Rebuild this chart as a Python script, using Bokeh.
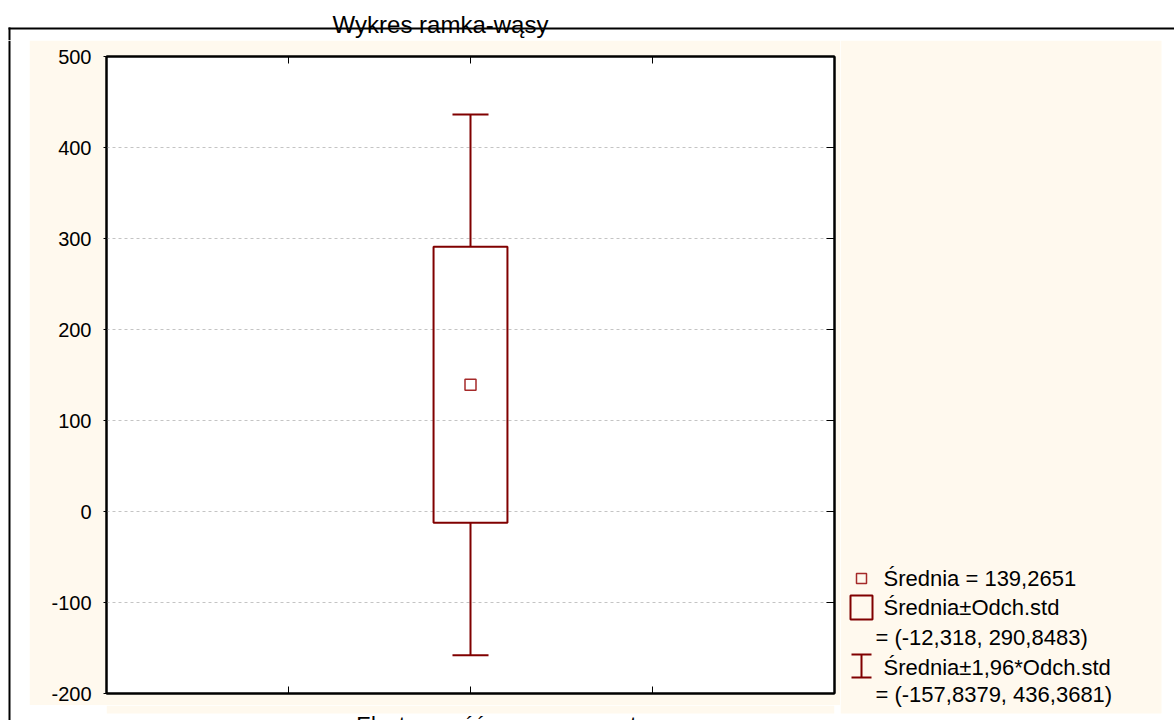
from bokeh.plotting import figure
from bokeh.models import LinearAxis, FixedTicker, Range1d, ColumnDataSource, Grid
from bokeh.layouts import row, column
from bokeh.core.properties import value
from bokeh.embed import file_html
from bokeh.resources import INLINE

# ---- data ----
x_pos = [2]
mean = [139.2651]
box_low = [-12.318]
box_high = [290.8483]
whisk_low = [-157.8379]
whisk_high = [436.3681]
y_ticks = [-200, -100, 0, 100, 200, 300, 400, 500]
x_ticks = [1, 2, 3]
title_text = "Wykres ramka-wąsy"
x_label = "Elastyczność cenowa wzrostu"


def fmt(v):
    s = f"{v:.4f}".rstrip("0").rstrip(".")
    return s.replace(".", ",")


MAROON = "#800000"
MEAN_C = "#a52a2a"
CREAM = "#fff9ee"
FONT = "Liberation Sans"


def blank(w, h, bg="white"):
    f = figure(width=w, height=h, output_backend="svg", toolbar_location=None,
               x_range=Range1d(0, w), y_range=Range1d(h, 0),
               x_axis_location=None, y_axis_location=None, min_border=0)
    f.outline_line_color = None
    f.background_fill_color = bg
    f.border_fill_color = bg
    for g in f.grid:
        g.visible = False
    return f


# ---------------- header (title strip) ----------------
head = blank(1174, 40)
head.text(x=[440], y=[24], text=[title_text], text_font=value(FONT), text_font_size="24px",
          text_align="center", text_baseline="middle", text_color="black")
head.quad(left=[8], right=[1174], top=[27], bottom=[29], fill_color="black", line_color=None)
head.quad(left=[8], right=[10], top=[27], bottom=[40], fill_color="black", line_color=None)

# ---------------- left pad (outer frame line) ----------------
leftpad = blank(29, 680)
leftpad.quad(left=[8], right=[10], top=[0], bottom=[680], fill_color="black", line_color=None)

# ---------------- main plot ----------------
p = figure(width=811, height=665, output_backend="svg", toolbar_location=None,
           x_range=Range1d(0, 4), y_range=Range1d(-200, 500),
           x_axis_location=None, y_axis_location=None,
           min_border_left=77, min_border_right=6, min_border_top=16, min_border_bottom=12)
p.border_fill_color = CREAM
p.background_fill_color = "white"
p.outline_line_color = "black"
p.outline_line_width = 2
for g in p.grid:
    g.visible = False

left = LinearAxis(ticker=FixedTicker(ticks=y_ticks))
left.major_label_overrides = {t: str(t) for t in y_ticks}
left.major_label_text_font = FONT
left.major_label_text_font_size = "20px"
left.major_label_text_color = "black"
left.major_tick_out = 3
left.major_tick_in = 0
left.minor_tick_out = 0
left.minor_tick_in = 0
left.major_label_standoff = 12
left.axis_line_width = 2
p.add_layout(left, "left")

right = LinearAxis(ticker=FixedTicker(ticks=y_ticks))
right.major_label_overrides = {t: "" for t in y_ticks}
right.major_label_text_font_size = "1px"
right.major_label_standoff = 0
right.major_tick_in = 8
right.major_tick_out = 0
right.minor_tick_out = 0
right.minor_tick_in = 0
right.axis_line_width = 2
p.add_layout(right, "right")

for loc in ("above", "below"):
    ax = LinearAxis(ticker=FixedTicker(ticks=x_ticks))
    ax.major_label_overrides = {t: "" for t in x_ticks}
    ax.major_label_text_font_size = "1px"
    ax.major_label_standoff = 0
    ax.major_tick_in = 7
    ax.major_tick_out = 0
    ax.minor_tick_out = 0
    ax.minor_tick_in = 0
    ax.axis_line_width = 2
    p.add_layout(ax, loc)

grid = Grid(dimension=1, ticker=FixedTicker(ticks=y_ticks), grid_line_color="#c4c4c4",
            grid_line_dash="3 3", grid_line_width=1)
p.add_layout(grid, "center")

src = ColumnDataSource(dict(
    x=x_pos, mean=mean, blo=box_low, bhi=box_high, wlo=whisk_low, whi=whisk_high,
    bl=[x - 0.203 for x in x_pos], br=[x + 0.203 for x in x_pos],
    cl=[x - 0.099 for x in x_pos], cr=[x + 0.099 for x in x_pos],
))
p.segment(x0="x", y0="bhi", x1="x", y1="whi", source=src, line_color=MAROON, line_width=2)
p.segment(x0="x", y0="wlo", x1="x", y1="blo", source=src, line_color=MAROON, line_width=2)
p.segment(x0="cl", y0="whi", x1="cr", y1="whi", source=src, line_color=MAROON, line_width=2)
p.segment(x0="cl", y0="wlo", x1="cr", y1="wlo", source=src, line_color=MAROON, line_width=2)
p.quad(left="bl", right="br", bottom="blo", top="bhi", source=src,
       fill_color=None, line_color=MAROON, line_width=2)
p.scatter(x="x", y="mean", source=src, marker="square", size=11,
          fill_color=None, line_color=MEAN_C, line_width=1.5)

# ---------------- x label strip (cut off at the bottom edge, as in the original) ----------------
xl = blank(811, 15)
xl.quad(left=[0], right=[811], top=[0], bottom=[8], fill_color=CREAM, line_color=None)
xl.text(x=[441], y=[6], text=[x_label], text_font=value(FONT), text_font_size="22px",
        text_align="center", text_baseline="top", text_color="black")

# ---------------- legend panel ----------------
lg = blank(334, 680)
lg.quad(left=[0], right=[321], top=[0], bottom=[673], fill_color=CREAM, line_color=None)
lg.scatter(x=[21], y=[538], marker="square", size=10, fill_color=None,
           line_color=MEAN_C, line_width=1.5)
lg.quad(left=[10], right=[32], top=[555], bottom=[579], fill_color=None,
        line_color=MAROON, line_width=2)
lg.segment(x0=[21, 11, 11], y0=[614, 614, 637], x1=[21, 31, 31], y1=[637, 614, 637],
           line_color=MAROON, line_width=2)
leg_x = [43, 43, 35, 43, 35]
leg_y = [538, 567, 597, 627, 654]
leg_t = [
    f"Średnia = {fmt(mean[0])}",
    "Średnia±Odch.std",
    f"= ({fmt(box_low[0])}, {fmt(box_high[0])})",
    "Średnia±1,96*Odch.std",
    f"= ({fmt(whisk_low[0])}, {fmt(whisk_high[0])})",
]
lg.text(x=leg_x, y=leg_y, text=leg_t, text_font=value(FONT), text_font_size="22px",
        text_align="left", text_baseline="middle", text_color="black")

layout = column(head, row(leftpad, column(p, xl), lg))
open("out.html", "w").write(file_html(layout, INLINE))
